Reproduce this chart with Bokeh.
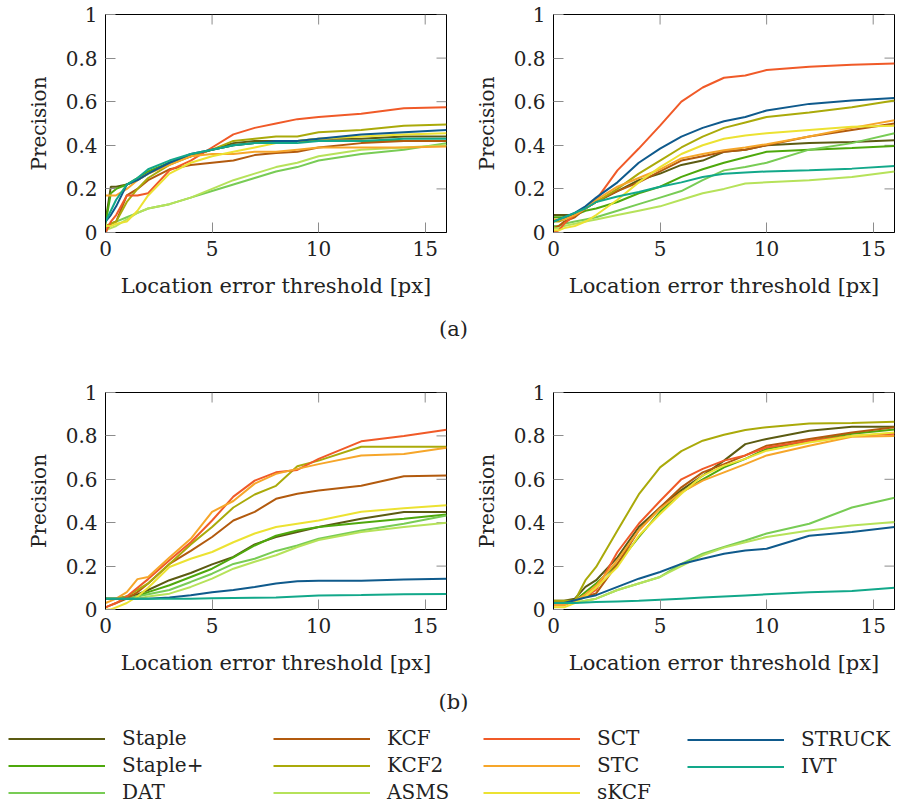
import math
from bokeh.plotting import figure
from bokeh.models import FixedTicker, Legend, LegendItem, Range1d
from bokeh.layouts import column, row
from bokeh.core.properties import value
from bokeh.embed import file_html
from bokeh.resources import INLINE

# ---------------- data ----------------
TRACKERS = ["Staple", "Staple+", "DAT", "KCF", "KCF2", "ASMS", "SCT", "STC", "sKCF", "STRUCK", "IVT"]
COLORS = ["#5b5b12", "#4ea80c", "#78cc55", "#b25a0e", "#aaaa0a", "#b6e25a",
          "#f05a28", "#f6a62a", "#ece232", "#0f5a8c", "#12a88a"]

X_TICKS = [0, 5, 10, 15]
Y_TICKS = [0, 0.2, 0.4, 0.6, 0.8, 1]
Y_TICK_LABELS = ["0", "0.2", "0.4", "0.6", "0.8", "1"]
X_LABEL = "Location error threshold [px]"
Y_LABEL = "Precision"
PANEL_LABELS = ["(a)", "(b)"]

# location-error thresholds at which precision was read
THRESH = [0, 0.25, 0.5, 1, 1.5, 2, 3, 4, 5, 6, 7, 8, 9, 10, 12, 14, 16]

# panel (a) left
A_LEFT = {
    "Staple":  [0.05, 0.21, 0.21, 0.22, 0.24, 0.27, 0.32, 0.35, 0.38, 0.41, 0.42, 0.42, 0.42, 0.43, 0.43, 0.44, 0.44],
    "Staple+": [0.04, 0.18, 0.20, 0.22, 0.25, 0.28, 0.32, 0.35, 0.38, 0.40, 0.41, 0.41, 0.42, 0.42, 0.42, 0.42, 0.42],
    "DAT":     [0.02, 0.04, 0.05, 0.07, 0.09, 0.11, 0.13, 0.16, 0.19, 0.22, 0.25, 0.28, 0.30, 0.33, 0.36, 0.38, 0.41],
    "KCF":     [0.00, 0.04, 0.05, 0.17, 0.20, 0.24, 0.29, 0.31, 0.32, 0.33, 0.355, 0.365, 0.37, 0.39, 0.41, 0.42, 0.42],
    "KCF2":    [0.03, 0.04, 0.05, 0.14, 0.20, 0.25, 0.31, 0.35, 0.38, 0.42, 0.43, 0.44, 0.44, 0.46, 0.47, 0.49, 0.495],
    "ASMS":    [0.01, 0.02, 0.03, 0.06, 0.09, 0.11, 0.13, 0.16, 0.20, 0.24, 0.27, 0.30, 0.32, 0.35, 0.38, 0.39, 0.40],
    "SCT":     [0.00, 0.05, 0.08, 0.17, 0.17, 0.18, 0.285, 0.33, 0.39, 0.45, 0.48, 0.50, 0.52, 0.53, 0.545, 0.57, 0.575],
    "STC":     [0.17, 0.17, 0.17, 0.20, 0.24, 0.27, 0.31, 0.35, 0.36, 0.36, 0.37, 0.37, 0.38, 0.39, 0.39, 0.39, 0.395],
    "sKCF":    [0.03, 0.03, 0.04, 0.05, 0.10, 0.17, 0.27, 0.32, 0.35, 0.37, 0.39, 0.41, 0.42, 0.43, 0.44, 0.45, 0.455],
    "STRUCK":  [0.05, 0.08, 0.12, 0.22, 0.24, 0.27, 0.32, 0.36, 0.38, 0.40, 0.41, 0.42, 0.42, 0.43, 0.45, 0.46, 0.47],
    "IVT":     [0.05, 0.10, 0.15, 0.22, 0.25, 0.29, 0.33, 0.36, 0.38, 0.40, 0.41, 0.41, 0.41, 0.42, 0.42, 0.43, 0.43],
}

# panel (a) right
A_RIGHT = {
    "Staple":  [0.08, 0.08, 0.08, 0.08, 0.11, 0.14, 0.19, 0.24, 0.27, 0.31, 0.33, 0.37, 0.38, 0.40, 0.41, 0.415, 0.423],
    "Staple+": [0.07, 0.07, 0.07, 0.08, 0.10, 0.11, 0.14, 0.18, 0.21, 0.255, 0.29, 0.32, 0.345, 0.37, 0.38, 0.388, 0.397],
    "DAT":     [0.03, 0.03, 0.04, 0.05, 0.06, 0.07, 0.10, 0.13, 0.16, 0.19, 0.24, 0.285, 0.30, 0.32, 0.38, 0.41, 0.455],
    "KCF":     [0.02, 0.03, 0.05, 0.07, 0.11, 0.14, 0.19, 0.23, 0.28, 0.33, 0.35, 0.37, 0.38, 0.40, 0.44, 0.47, 0.50],
    "KCF2":    [0.05, 0.05, 0.06, 0.08, 0.11, 0.14, 0.20, 0.27, 0.33, 0.39, 0.44, 0.48, 0.505, 0.53, 0.55, 0.575, 0.605],
    "ASMS":    [0.02, 0.02, 0.03, 0.04, 0.05, 0.06, 0.08, 0.10, 0.12, 0.15, 0.18, 0.20, 0.225, 0.23, 0.24, 0.255, 0.28],
    "SCT":     [0.00, 0.01, 0.04, 0.08, 0.11, 0.15, 0.285, 0.385, 0.49, 0.60, 0.665, 0.71, 0.72, 0.745, 0.76, 0.77, 0.775],
    "STC":     [0.06, 0.06, 0.06, 0.08, 0.11, 0.15, 0.21, 0.25, 0.29, 0.34, 0.36, 0.377, 0.39, 0.405, 0.44, 0.48, 0.515],
    "sKCF":    [0.01, 0.01, 0.02, 0.03, 0.05, 0.08, 0.15, 0.23, 0.30, 0.36, 0.40, 0.43, 0.445, 0.455, 0.47, 0.485, 0.49],
    "STRUCK":  [0.05, 0.06, 0.07, 0.09, 0.12, 0.16, 0.23, 0.32, 0.385, 0.44, 0.48, 0.51, 0.53, 0.56, 0.59, 0.605, 0.617],
    "IVT":     [0.05, 0.06, 0.07, 0.09, 0.11, 0.14, 0.165, 0.186, 0.21, 0.23, 0.255, 0.27, 0.275, 0.28, 0.285, 0.293, 0.305],
}

# panel (b) left
B_LEFT = {
    "Staple":  [0.05, 0.05, 0.05, 0.06, 0.07, 0.09, 0.135, 0.168, 0.208, 0.242, 0.30, 0.334, 0.357, 0.38, 0.418, 0.449, 0.449],
    "Staple+": [0.05, 0.05, 0.05, 0.05, 0.06, 0.08, 0.112, 0.15, 0.188, 0.24, 0.295, 0.34, 0.364, 0.38, 0.40, 0.418, 0.438],
    "DAT":     [0.05, 0.05, 0.05, 0.05, 0.06, 0.07, 0.09, 0.127, 0.165, 0.21, 0.234, 0.27, 0.295, 0.326, 0.364, 0.395, 0.433],
    "KCF":     [0.01, 0.02, 0.03, 0.05, 0.08, 0.12, 0.21, 0.27, 0.334, 0.41, 0.45, 0.51, 0.533, 0.548, 0.57, 0.614, 0.617],
    "KCF2":    [0.05, 0.05, 0.05, 0.06, 0.09, 0.12, 0.21, 0.30, 0.38, 0.47, 0.53, 0.57, 0.66, 0.686, 0.75, 0.75, 0.75],
    "ASMS":    [0.05, 0.05, 0.05, 0.05, 0.05, 0.06, 0.073, 0.104, 0.142, 0.188, 0.22, 0.25, 0.288, 0.32, 0.357, 0.38, 0.40],
    "SCT":     [0.01, 0.02, 0.03, 0.06, 0.10, 0.14, 0.227, 0.31, 0.41, 0.52, 0.594, 0.632, 0.643, 0.694, 0.775, 0.80, 0.828],
    "STC":     [0.03, 0.04, 0.05, 0.08, 0.14, 0.15, 0.24, 0.326, 0.45, 0.50, 0.58, 0.625, 0.648, 0.67, 0.71, 0.717, 0.745],
    "sKCF":    [0.00, 0.00, 0.01, 0.03, 0.06, 0.10, 0.196, 0.234, 0.265, 0.31, 0.35, 0.38, 0.395, 0.41, 0.45, 0.467, 0.48],
    "STRUCK":  [0.05, 0.05, 0.05, 0.05, 0.05, 0.05, 0.055, 0.066, 0.08, 0.09, 0.104, 0.12, 0.13, 0.132, 0.132, 0.138, 0.142],
    "IVT":     [0.05, 0.05, 0.05, 0.05, 0.05, 0.05, 0.05, 0.05, 0.052, 0.053, 0.054, 0.055, 0.06, 0.065, 0.067, 0.07, 0.072],
}

# panel (b) right
B_RIGHT = {
    "Staple":  [0.04, 0.04, 0.04, 0.05, 0.104, 0.135, 0.24, 0.38, 0.47, 0.55, 0.617, 0.686, 0.762, 0.786, 0.824, 0.842, 0.842],
    "Staple+": [0.03, 0.03, 0.03, 0.04, 0.08, 0.12, 0.21, 0.334, 0.45, 0.54, 0.60, 0.655, 0.694, 0.74, 0.778, 0.81, 0.83],
    "DAT":     [0.03, 0.03, 0.03, 0.03, 0.04, 0.05, 0.09, 0.12, 0.15, 0.21, 0.257, 0.288, 0.318, 0.35, 0.395, 0.47, 0.515],
    "KCF":     [0.03, 0.03, 0.03, 0.04, 0.06, 0.074, 0.21, 0.364, 0.47, 0.563, 0.632, 0.67, 0.71, 0.755, 0.786, 0.816, 0.84],
    "KCF2":    [0.04, 0.04, 0.04, 0.04, 0.135, 0.196, 0.364, 0.53, 0.655, 0.73, 0.778, 0.805, 0.827, 0.84, 0.857, 0.86, 0.865],
    "ASMS":    [0.03, 0.03, 0.03, 0.03, 0.04, 0.05, 0.09, 0.12, 0.15, 0.20, 0.25, 0.285, 0.31, 0.334, 0.364, 0.387, 0.403],
    "SCT":     [0.02, 0.02, 0.02, 0.04, 0.06, 0.09, 0.265, 0.395, 0.50, 0.60, 0.648, 0.686, 0.71, 0.747, 0.778, 0.80, 0.81],
    "STC":     [0.02, 0.02, 0.02, 0.04, 0.07, 0.11, 0.227, 0.364, 0.464, 0.54, 0.594, 0.632, 0.67, 0.71, 0.755, 0.796, 0.80],
    "sKCF":    [0.01, 0.01, 0.01, 0.03, 0.06, 0.10, 0.196, 0.34, 0.44, 0.533, 0.617, 0.663, 0.694, 0.732, 0.77, 0.80, 0.816],
    "STRUCK":  [0.03, 0.03, 0.03, 0.043, 0.055, 0.066, 0.104, 0.142, 0.173, 0.21, 0.234, 0.257, 0.272, 0.28, 0.34, 0.357, 0.38],
    "IVT":     [0.03, 0.03, 0.03, 0.03, 0.032, 0.034, 0.037, 0.04, 0.045, 0.05, 0.055, 0.06, 0.065, 0.07, 0.08, 0.085, 0.10],
}

FONT = "DejaVu Serif"
FONT_VALUE = value(FONT)
TEXT_COLOR = "#222222"
TICK_COLOR = "#8c8c8c"
TICK_LEN = 10


def make_panel(data, width, height, left, right, top, bottom):
    p = figure(width=width, height=height, x_range=Range1d(0, 16), y_range=Range1d(0, 1),
               output_backend="svg", toolbar_location=None,
               min_border_left=left, min_border_right=right,
               min_border_top=top, min_border_bottom=bottom)
    p.grid.visible = False
    p.outline_line_color = "black"
    p.outline_line_width = 1

    for ax in (p.xaxis[0], p.yaxis[0]):
        ax.axis_line_color = "black"
        ax.major_tick_in = TICK_LEN
        ax.major_tick_out = 0
        ax.major_tick_line_color = TICK_COLOR
        ax.minor_tick_line_color = None
        ax.major_label_text_font = FONT
        ax.major_label_text_font_size = "20px"
        ax.major_label_text_color = TEXT_COLOR
        ax.axis_label_text_font = FONT
        ax.axis_label_text_font_style = "normal"
        ax.axis_label_text_color = TEXT_COLOR

    p.xaxis.ticker = FixedTicker(ticks=X_TICKS)
    p.xaxis.axis_label = X_LABEL
    p.xaxis.axis_label_text_font_size = "21px"
    p.xaxis.major_label_standoff = 8
    p.xaxis.axis_label_standoff = 15

    p.yaxis.ticker = FixedTicker(ticks=Y_TICKS)
    p.yaxis.major_label_overrides = {t: s for t, s in zip(Y_TICKS, Y_TICK_LABELS)}
    p.yaxis.axis_label = Y_LABEL
    p.yaxis.axis_label_text_font_size = "20px"
    p.yaxis.major_label_standoff = 8
    p.yaxis.axis_label_standoff = 12

    # mirrored tick marks on the top and right frame edges
    x1 = p.x_range.end
    y1 = p.y_range.end
    p.ray(x=X_TICKS, y=[y1] * len(X_TICKS), length=TICK_LEN, length_units="screen",
          angle=-math.pi / 2, line_color=TICK_COLOR, line_width=1)
    p.ray(x=[x1] * len(Y_TICKS), y=Y_TICKS, length=TICK_LEN, length_units="screen",
          angle=math.pi, line_color=TICK_COLOR, line_width=1)

    for name, color in zip(TRACKERS, COLORS):
        p.line(THRESH, data[name], line_color=color, line_width=2)
    return p


def make_caption(text, height, ypos):
    p = figure(width=906, height=height, x_range=Range1d(0, 1), y_range=Range1d(0, 1),
               output_backend="svg", toolbar_location=None, min_border=0)
    p.axis.visible = False
    p.grid.visible = False
    p.outline_line_color = None
    p.text(x=[0.5], y=[ypos], text=[text], text_align="center", text_baseline="middle",
           text_font=FONT_VALUE, text_font_size="21px", text_color=TEXT_COLOR)
    return p


f1 = make_panel(A_LEFT, 453, 310, 105, 7, 14, 78)
f2 = make_panel(A_RIGHT, 453, 310, 100, 12, 14, 78)
f3 = make_panel(B_LEFT, 453, 335, 105, 7, 42, 76)
f4 = make_panel(B_RIGHT, 453, 335, 100, 12, 42, 76)

cap_a = make_caption(PANEL_LABELS[0], 40, 0.55)
cap_b = make_caption(PANEL_LABELS[1], 33, 0.5)

# legend strip
LEG_H = 88
leg = figure(width=906, height=LEG_H, x_range=Range1d(0, 1), y_range=Range1d(0, 1),
             output_backend="svg", toolbar_location=None, min_border=0)
leg.axis.visible = False
leg.grid.visible = False
leg.outline_line_color = None
nan = float("nan")
renderers = {}
for name, color in zip(TRACKERS, COLORS):
    renderers[name] = leg.line(x=[nan], y=[nan], line_color=color, line_width=2)

LEGEND_COLUMNS = [["Staple", "Staple+", "DAT"], ["KCF", "KCF2", "ASMS"],
                  ["SCT", "STC", "sKCF"], ["STRUCK", "IVT"]]
COL_X = [8, 273, 483, 687]
GLYPH_H = 23
GAP = 3
TOP_PAD = 11
for names, cx in zip(LEGEND_COLUMNS, COL_X):
    items = [LegendItem(label=n, renderers=[renderers[n]]) for n in names]
    n_items = len(names)
    h = n_items * GLYPH_H + (n_items - 1) * GAP
    lg = Legend(items=items, location=(cx, LEG_H - TOP_PAD - h), orientation="vertical",
                glyph_width=97, glyph_height=GLYPH_H, spacing=GAP, label_standoff=17,
                label_text_font=FONT, label_text_font_size="20px", label_text_color=TEXT_COLOR,
                label_text_baseline="middle", label_height=GLYPH_H,
                padding=0, margin=0, border_line_color=None, background_fill_alpha=0)
    leg.add_layout(lg, "center")

layout = column(row(f1, f2), cap_a, row(f3, f4), cap_b, leg)

open("out.html", "w").write(file_html(layout, INLINE))
